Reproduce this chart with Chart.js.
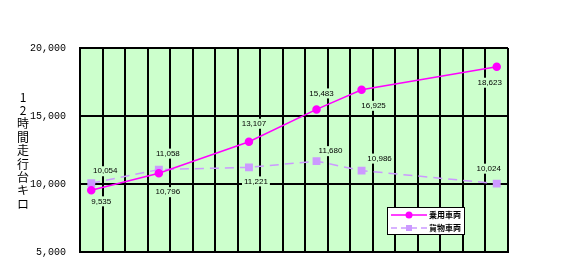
<!DOCTYPE html>
<html>
<head>
<meta charset="utf-8">
<script src="https://cdn.jsdelivr.net/npm/chart.js@4"></script>
<style>
    body { margin: 0; background: #ffffff; }
    #wrap { width: 564px; height: 275px; }
</style>
</head>
<body>
<div id="wrap"><canvas id="chart" width="564" height="275"></canvas></div>
<script>
// 19 columns, no labels shown on the x axis
var categories = ["", "", "", "", "", "", "", "", "", "", "", "", "", "", "", "", "", "", ""];
var carValues = [9535, null, null, 10796, null, null, null, 13107, null, null, 15483, null, 16925, null, null, null, null, null, 18623];
var truckValues = [10054, null, null, 11058, null, null, null, 11221, null, null, 11680, null, 10986, null, null, null, null, null, 10024];
var seriesNames = ["乗用車両", "貨物車両"];
var yTicks = [5000, 10000, 15000, 20000];
var yTitle = ["1", "2", "時", "間", "走", "行", "台", "キ", "ロ"];

var formatNum = function(v) {
    return String(v).replace(/\B(?=(\d{3})+(?!\d))/g, ",");
}

// label offsets from the point, [dx, dy]
var carLabelPos = [[10, 11], null, null, [9, 19], null, null, null, [5, -18], null, null, [5, -16], null, [12, 16], null, null, null, null, null, [-7, 16]];
var truckLabelPos = [[14, -12], null, null, [9, -16], null, null, null, [7, 14], null, null, [14, -10], null, [18, -12], null, null, null, null, null, [-8, -15]];

var plotBg = {
    id: "plotBg",
    beforeDraw: function(chart) {
        var a = chart.chartArea;
        var ctx = chart.ctx;
        ctx.save();
        ctx.fillStyle = "#CCFFCC";
        ctx.fillRect(a.left, a.top, a.right - a.left, a.bottom - a.top);
        ctx.restore();
    }
};

var extras = {
    id: "extras",
    afterDatasetsDraw: function(chart) {
        var ctx = chart.ctx;
        ctx.save();
        ctx.font = "8px 'Liberation Sans'";
        ctx.textAlign = "center";
        ctx.textBaseline = "middle";
        var sets = [carLabelPos, truckLabelPos];
        for (var d = 0; d < 2; d++) {
            var meta = chart.getDatasetMeta(d);
            var vals = chart.data.datasets[d].data;
            for (var i in vals) {
                if (vals[i] === null) continue;
                var pt = meta.data[i];
                var off = sets[d][i];
                var x = pt.x + off[0];
                var y = pt.y + off[1];
                var txt = formatNum(vals[i]);
                var w = ctx.measureText(txt).width;
                ctx.fillStyle = "#CCFFCC";
                ctx.fillRect(x - w / 2 - 2, y - 5, w + 4, 10);
                ctx.fillStyle = "#000000";
                ctx.fillText(txt, x, y);
            }
        }

        // vertical y-axis title
        ctx.font = "12px 'Noto Sans CJK JP'";
        for (var k = 0; k < yTitle.length; k++) {
            ctx.fillText(yTitle[k], 23, 97 + k * 13.4);
        }

        // legend box
        var lx = 387, ly = 207;
        ctx.fillStyle = "#ffffff";
        ctx.fillRect(lx, ly, 77, 27);
        ctx.strokeStyle = "#000000";
        ctx.lineWidth = 1;
        ctx.strokeRect(lx + 0.5, ly + 0.5, 77, 27);
        var colors = ["#FF00FF", "#CC99FF"];
        for (var r = 0; r < 2; r++) {
            var ry = ly + 8 + r * 13;
            ctx.strokeStyle = colors[r];
            ctx.lineWidth = 1.5;
            ctx.setLineDash(r === 1 ? [6, 4] : []);
            ctx.beginPath();
            ctx.moveTo(lx + 4, ry);
            ctx.lineTo(lx + 40, ry);
            ctx.stroke();
            ctx.setLineDash([]);
            ctx.fillStyle = colors[r];
            if (r === 0) {
                ctx.beginPath();
                ctx.arc(lx + 22, ry, 3.5, 0, Math.PI * 2);
                ctx.fill();
            } else {
                ctx.fillRect(lx + 19, ry - 3, 6, 6);
            }
            ctx.fillStyle = "#000000";
            ctx.textAlign = "left";
            ctx.font = "bold 8px 'Noto Sans CJK JP'";
            ctx.fillText(seriesNames[r], lx + 42, ry);
        }
        ctx.restore();
    }
};

var ctx = document.getElementById("chart").getContext("2d");
var chart = new Chart(ctx, {
    type: "line",
    data: {
        labels: categories,
        datasets: [
            {
                label: seriesNames[0],
                data: carValues,
                borderColor: "#FF00FF",
                backgroundColor: "#FF00FF",
                borderWidth: 1.5,
                pointStyle: "circle",
                pointRadius: 3.5,
                spanGaps: true,
                tension: 0
            },
            {
                label: seriesNames[1],
                data: truckValues,
                borderColor: "#CC99FF",
                backgroundColor: "#CC99FF",
                borderWidth: 1.5,
                borderDash: [9, 6],
                pointStyle: "rect",
                pointRadius: 4.5,
                spanGaps: true,
                tension: 0
            }
        ]
    },
    options: {
        responsive: false,
        animation: false,
        layout: {
            padding: {top: 48, right: 56, bottom: 23, left: 0}
        },
        plugins: {
            legend: {display: false},
            tooltip: {enabled: false}
        },
        scales: {
            x: {
                offset: true,
                grid: {
                    offset: true,
                    color: "#000000",
                    lineWidth: 2,
                    drawTicks: false
                },
                border: {color: "#000000", width: 2},
                ticks: {display: false},
                afterFit: function(s) { s.height = 0; }
            },
            y: {
                min: yTicks[0],
                max: yTicks[yTicks.length - 1],
                afterBuildTicks: function(s) {
                    s.ticks = yTicks.map(function(v) { return {value: v}; });
                },
                grid: {
                    color: "#000000",
                    lineWidth: 2,
                    drawTicks: false
                },
                border: {color: "#000000", width: 2},
                ticks: {
                    padding: 14,
                    color: "#000000",
                    font: {family: "'Liberation Mono'", size: 10},
                    callback: function(v) { return formatNum(v); }
                },
                afterFit: function(s) { s.width = 80; }
            }
        }
    },
    plugins: [plotBg, extras]
});
</script>
</body>
</html>
